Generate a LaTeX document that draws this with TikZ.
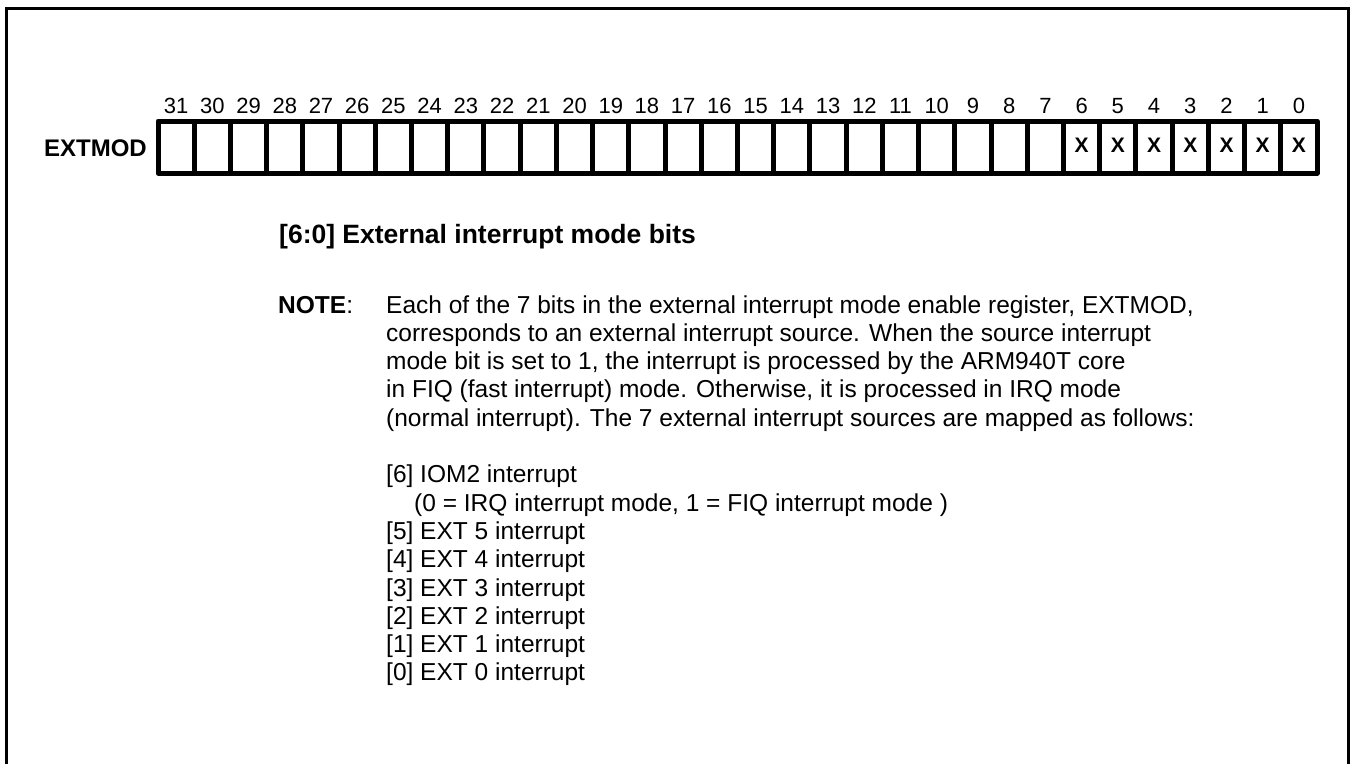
\documentclass[tikz,border=0pt]{standalone}
\usepackage{fontspec}
\setmainfont{Liberation Sans}
\begin{document}
\begin{tikzpicture}[x=1pt,y=-1pt,
  cell/.style={draw, line width=5pt, minimum width=36.22pt, minimum height=52pt, inner sep=0pt, line join=round},
  bitnum/.style={font=\fontsize{22}{22}\selectfont, inner sep=0pt, anchor=base},
  xmark/.style={font=\bfseries\fontsize{21}{21}\selectfont, inner sep=0pt},
  txt/.style={font=\fontsize{24.5}{28.3}\selectfont, inner sep=0pt, anchor=base west},
  frameline/.style={line width=3pt}]
\useasboundingbox (0,0) rectangle (1354,764);
\draw[frameline] (6.5,764) -- (6.5,8.5) -- (1348,8.5) -- (1348,764);
% register cells
\foreach \i in {0,...,31}{
  \pgfmathtruncatemacro{\b}{31-\i}
  \node[cell] (c\b) at ({158+36.22*(\i+0.5)},147) {};
  \node[bitnum] (n\b) at ({158+36.22*(\i+0.5)},113) {\b};
}
\foreach \b in {0,...,6}{
  \node[xmark] (x\b) at ([yshift=1.5pt]c\b.center) {X};
}
\node[font=\bfseries\fontsize{24}{24}\selectfont, anchor=east, inner sep=0pt] (reg) at (147,148.5) {EXTMOD};
% description
\node[txt, font=\bfseries\fontsize{26.5}{30}\selectfont] (head) at (279,243) {[6:0] External interrupt mode bits};
\node[txt] (note) at (278,313) {\textbf{NOTE}:};
\node[txt] (l1) at (386,313) {Each of the 7 bits in the external interrupt mode enable register, EXTMOD,};
\node[txt] (l2) at (386,341.3) {corresponds to an external interrupt source. When the source interrupt};
\node[txt] (l3) at (386,369.6) {mode bit is set to 1, the interrupt is processed by the ARM940T core};
\node[txt] (l4) at (386,397.9) {in FIQ (fast interrupt) mode. Otherwise, it is processed in IRQ mode};
\node[txt] (l5) at (386,426.2) {(normal interrupt). The 7 external interrupt sources are mapped as follows:};
\node[txt] (i6) at (386,482.8) {[6] IOM2 interrupt};
\node[txt] (i6b) at (414,511.1) {(0 = IRQ interrupt mode, 1 = FIQ interrupt mode )};
\node[txt] (i5) at (386,539.4) {[5] EXT 5 interrupt};
\node[txt] (i4) at (386,567.7) {[4] EXT 4 interrupt};
\node[txt] (i3) at (386,596.0) {[3] EXT 3 interrupt};
\node[txt] (i2) at (386,624.3) {[2] EXT 2 interrupt};
\node[txt] (i1) at (386,652.6) {[1] EXT 1 interrupt};
\node[txt] (i0) at (386,680.9) {[0] EXT 0 interrupt};
\end{tikzpicture}
\end{document}
